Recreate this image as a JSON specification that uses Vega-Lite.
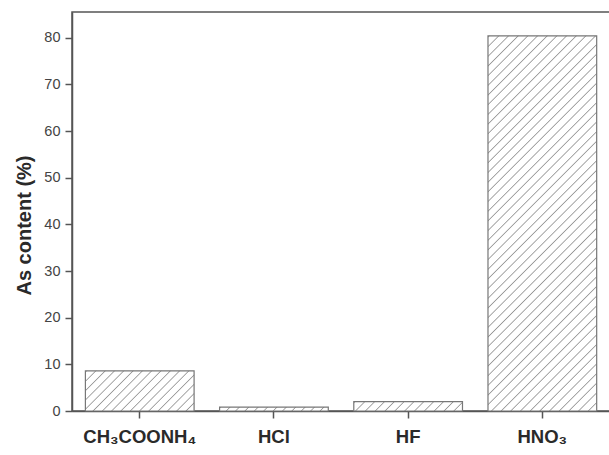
{
  "$schema": "https://vega.github.io/schema/vega-lite/v6.json",
  "width": 560,
  "height": 399,
  "autosize": "none",
  "padding": {"left": 72, "top": 12, "right": 0, "bottom": 44},
  "background": "white",
  "config": {
    "font": "Liberation Sans",
    "view": {"stroke": "#555555", "strokeWidth": 1.5}
  },
  "data": {
    "values": [
      {"acid": "CH₃COONH₄", "content": 8.6},
      {"acid": "HCl", "content": 0.85},
      {"acid": "HF", "content": 2.0},
      {"acid": "HNO₃", "content": 80.4}
    ]
  },
  "encoding": {
    "x": {
      "field": "acid",
      "type": "nominal",
      "sort": null,
      "scale": {"paddingInner": 0.19, "paddingOuter": 0.1815, "align": 0.275},
      "axis": {
        "title": null,
        "labelAngle": 0,
        "labelFont": "Liberation Sans",
        "labelFontSize": 18.5,
        "labelFontWeight": "bold",
        "labelColor": "#2a2a2a",
        "labelPadding": 9,
        "tickSize": 7,
        "tickColor": "#555555",
        "tickWidth": 1.5,
        "domainColor": "#555555",
        "domainWidth": 1.5,
        "grid": false
      }
    },
    "y": {
      "field": "content",
      "type": "quantitative",
      "scale": {"domain": [0, 85.5], "nice": false},
      "axis": {
        "values": [0, 10, 20, 30, 40, 50, 60, 70, 80],
        "title": "As content (%)",
        "titleFont": "Liberation Sans",
        "titleFontSize": 20,
        "titleFontWeight": "bold",
        "titleColor": "#2a2a2a",
        "titlePadding": 9,
        "titleY": 213,
        "labelFont": "Liberation Sans",
        "labelFontSize": 14.5,
        "labelColor": "#444444",
        "labelPadding": 5,
        "tickSize": 7,
        "tickColor": "#555555",
        "tickWidth": 1.5,
        "domainColor": "#555555",
        "domainWidth": 1.5,
        "grid": false
      }
    }
  },
  "layer": [
    {
      "transform": [{"filter": {"field": "acid", "equal": "CH₃COONH₄"}}],
      "mark": {
        "type": "bar",
        "stroke": "#777777",
        "strokeWidth": 1.2,
        "fill": {
          "gradient": "linear",
          "x1": 0, "y1": 0, "x2": 1.205, "y2": 0.4445,
          "stops": [
            {"offset": 0, "color": "#ffffff"}, {"offset": 0.008, "color": "#999999"}, {"offset": 0.016, "color": "#ffffff"},
            {"offset": 0.0625, "color": "#ffffff"}, {"offset": 0.0705, "color": "#999999"}, {"offset": 0.0785, "color": "#ffffff"},
            {"offset": 0.125, "color": "#ffffff"}, {"offset": 0.133, "color": "#999999"}, {"offset": 0.141, "color": "#ffffff"},
            {"offset": 0.1875, "color": "#ffffff"}, {"offset": 0.1955, "color": "#999999"}, {"offset": 0.2035, "color": "#ffffff"},
            {"offset": 0.25, "color": "#ffffff"}, {"offset": 0.258, "color": "#999999"}, {"offset": 0.266, "color": "#ffffff"},
            {"offset": 0.3125, "color": "#ffffff"}, {"offset": 0.3205, "color": "#999999"}, {"offset": 0.3285, "color": "#ffffff"},
            {"offset": 0.375, "color": "#ffffff"}, {"offset": 0.383, "color": "#999999"}, {"offset": 0.391, "color": "#ffffff"},
            {"offset": 0.4375, "color": "#ffffff"}, {"offset": 0.4455, "color": "#999999"}, {"offset": 0.4535, "color": "#ffffff"},
            {"offset": 0.5, "color": "#ffffff"}, {"offset": 0.508, "color": "#999999"}, {"offset": 0.516, "color": "#ffffff"},
            {"offset": 0.5625, "color": "#ffffff"}, {"offset": 0.5705, "color": "#999999"}, {"offset": 0.5785, "color": "#ffffff"},
            {"offset": 0.625, "color": "#ffffff"}, {"offset": 0.633, "color": "#999999"}, {"offset": 0.641, "color": "#ffffff"},
            {"offset": 0.6875, "color": "#ffffff"}, {"offset": 0.6955, "color": "#999999"}, {"offset": 0.7035, "color": "#ffffff"},
            {"offset": 0.75, "color": "#ffffff"}, {"offset": 0.758, "color": "#999999"}, {"offset": 0.766, "color": "#ffffff"},
            {"offset": 0.8125, "color": "#ffffff"}, {"offset": 0.8205, "color": "#999999"}, {"offset": 0.8285, "color": "#ffffff"},
            {"offset": 0.875, "color": "#ffffff"}, {"offset": 0.883, "color": "#999999"}, {"offset": 0.891, "color": "#ffffff"},
            {"offset": 0.9375, "color": "#ffffff"}, {"offset": 0.9455, "color": "#999999"}, {"offset": 0.9535, "color": "#ffffff"},
            {"offset": 1, "color": "#ffffff"}
          ]
        }
      }
    },
    {
      "transform": [{"filter": {"field": "acid", "equal": "HCl"}}],
      "mark": {
        "type": "bar",
        "stroke": "#777777",
        "strokeWidth": 1.2,
        "fill": {
          "gradient": "linear",
          "x1": 0, "y1": 0, "x2": 1.035, "y2": 0.0378,
          "stops": [
            {"offset": 0, "color": "#ffffff"}, {"offset": 0.01, "color": "#999999"}, {"offset": 0.02, "color": "#ffffff"},
            {"offset": 0.0833, "color": "#ffffff"}, {"offset": 0.0933, "color": "#999999"}, {"offset": 0.1033, "color": "#ffffff"},
            {"offset": 0.1667, "color": "#ffffff"}, {"offset": 0.1767, "color": "#999999"}, {"offset": 0.1867, "color": "#ffffff"},
            {"offset": 0.25, "color": "#ffffff"}, {"offset": 0.26, "color": "#999999"}, {"offset": 0.27, "color": "#ffffff"},
            {"offset": 0.3333, "color": "#ffffff"}, {"offset": 0.3433, "color": "#999999"}, {"offset": 0.3533, "color": "#ffffff"},
            {"offset": 0.4167, "color": "#ffffff"}, {"offset": 0.4267, "color": "#999999"}, {"offset": 0.4367, "color": "#ffffff"},
            {"offset": 0.5, "color": "#ffffff"}, {"offset": 0.51, "color": "#999999"}, {"offset": 0.52, "color": "#ffffff"},
            {"offset": 0.5833, "color": "#ffffff"}, {"offset": 0.5933, "color": "#999999"}, {"offset": 0.6033, "color": "#ffffff"},
            {"offset": 0.6667, "color": "#ffffff"}, {"offset": 0.6767, "color": "#999999"}, {"offset": 0.6867, "color": "#ffffff"},
            {"offset": 0.75, "color": "#ffffff"}, {"offset": 0.76, "color": "#999999"}, {"offset": 0.77, "color": "#ffffff"},
            {"offset": 0.8333, "color": "#ffffff"}, {"offset": 0.8433, "color": "#999999"}, {"offset": 0.8533, "color": "#ffffff"},
            {"offset": 0.9167, "color": "#ffffff"}, {"offset": 0.9267, "color": "#999999"}, {"offset": 0.9367, "color": "#ffffff"},
            {"offset": 1, "color": "#ffffff"}
          ]
        }
      }
    },
    {
      "transform": [{"filter": {"field": "acid", "equal": "HF"}}],
      "mark": {
        "type": "bar",
        "stroke": "#777777",
        "strokeWidth": 1.2,
        "fill": {
          "gradient": "linear",
          "x1": 0, "y1": 0, "x2": 1.078, "y2": 0.0925,
          "stops": [
            {"offset": 0, "color": "#ffffff"}, {"offset": 0.01, "color": "#999999"}, {"offset": 0.02, "color": "#ffffff"},
            {"offset": 0.0833, "color": "#ffffff"}, {"offset": 0.0933, "color": "#999999"}, {"offset": 0.1033, "color": "#ffffff"},
            {"offset": 0.1667, "color": "#ffffff"}, {"offset": 0.1767, "color": "#999999"}, {"offset": 0.1867, "color": "#ffffff"},
            {"offset": 0.25, "color": "#ffffff"}, {"offset": 0.26, "color": "#999999"}, {"offset": 0.27, "color": "#ffffff"},
            {"offset": 0.3333, "color": "#ffffff"}, {"offset": 0.3433, "color": "#999999"}, {"offset": 0.3533, "color": "#ffffff"},
            {"offset": 0.4167, "color": "#ffffff"}, {"offset": 0.4267, "color": "#999999"}, {"offset": 0.4367, "color": "#ffffff"},
            {"offset": 0.5, "color": "#ffffff"}, {"offset": 0.51, "color": "#999999"}, {"offset": 0.52, "color": "#ffffff"},
            {"offset": 0.5833, "color": "#ffffff"}, {"offset": 0.5933, "color": "#999999"}, {"offset": 0.6033, "color": "#ffffff"},
            {"offset": 0.6667, "color": "#ffffff"}, {"offset": 0.6767, "color": "#999999"}, {"offset": 0.6867, "color": "#ffffff"},
            {"offset": 0.75, "color": "#ffffff"}, {"offset": 0.76, "color": "#999999"}, {"offset": 0.77, "color": "#ffffff"},
            {"offset": 0.8333, "color": "#ffffff"}, {"offset": 0.8433, "color": "#999999"}, {"offset": 0.8533, "color": "#ffffff"},
            {"offset": 0.9167, "color": "#ffffff"}, {"offset": 0.9267, "color": "#999999"}, {"offset": 0.9367, "color": "#ffffff"},
            {"offset": 1, "color": "#ffffff"}
          ]
        }
      }
    },
    {
      "transform": [{"filter": {"field": "acid", "equal": "HNO₃"}}],
      "mark": {
        "type": "bar",
        "stroke": "#777777",
        "strokeWidth": 1.2,
        "fill": {
          "gradient": "linear",
          "x1": 0, "y1": 0, "x2": 0.3447, "y2": 1.1898,
          "stops": [
            {"offset": 0, "color": "#ffffff"}, {"offset": 0.0025, "color": "#999999"}, {"offset": 0.005, "color": "#ffffff"},
            {"offset": 0.02, "color": "#ffffff"}, {"offset": 0.0225, "color": "#999999"}, {"offset": 0.025, "color": "#ffffff"},
            {"offset": 0.04, "color": "#ffffff"}, {"offset": 0.0425, "color": "#999999"}, {"offset": 0.045, "color": "#ffffff"},
            {"offset": 0.06, "color": "#ffffff"}, {"offset": 0.0625, "color": "#999999"}, {"offset": 0.065, "color": "#ffffff"},
            {"offset": 0.08, "color": "#ffffff"}, {"offset": 0.0825, "color": "#999999"}, {"offset": 0.085, "color": "#ffffff"},
            {"offset": 0.1, "color": "#ffffff"}, {"offset": 0.1025, "color": "#999999"}, {"offset": 0.105, "color": "#ffffff"},
            {"offset": 0.12, "color": "#ffffff"}, {"offset": 0.1225, "color": "#999999"}, {"offset": 0.125, "color": "#ffffff"},
            {"offset": 0.14, "color": "#ffffff"}, {"offset": 0.1425, "color": "#999999"}, {"offset": 0.145, "color": "#ffffff"},
            {"offset": 0.16, "color": "#ffffff"}, {"offset": 0.1625, "color": "#999999"}, {"offset": 0.165, "color": "#ffffff"},
            {"offset": 0.18, "color": "#ffffff"}, {"offset": 0.1825, "color": "#999999"}, {"offset": 0.185, "color": "#ffffff"},
            {"offset": 0.2, "color": "#ffffff"}, {"offset": 0.2025, "color": "#999999"}, {"offset": 0.205, "color": "#ffffff"},
            {"offset": 0.22, "color": "#ffffff"}, {"offset": 0.2225, "color": "#999999"}, {"offset": 0.225, "color": "#ffffff"},
            {"offset": 0.24, "color": "#ffffff"}, {"offset": 0.2425, "color": "#999999"}, {"offset": 0.245, "color": "#ffffff"},
            {"offset": 0.26, "color": "#ffffff"}, {"offset": 0.2625, "color": "#999999"}, {"offset": 0.265, "color": "#ffffff"},
            {"offset": 0.28, "color": "#ffffff"}, {"offset": 0.2825, "color": "#999999"}, {"offset": 0.285, "color": "#ffffff"},
            {"offset": 0.3, "color": "#ffffff"}, {"offset": 0.3025, "color": "#999999"}, {"offset": 0.305, "color": "#ffffff"},
            {"offset": 0.32, "color": "#ffffff"}, {"offset": 0.3225, "color": "#999999"}, {"offset": 0.325, "color": "#ffffff"},
            {"offset": 0.34, "color": "#ffffff"}, {"offset": 0.3425, "color": "#999999"}, {"offset": 0.345, "color": "#ffffff"},
            {"offset": 0.36, "color": "#ffffff"}, {"offset": 0.3625, "color": "#999999"}, {"offset": 0.365, "color": "#ffffff"},
            {"offset": 0.38, "color": "#ffffff"}, {"offset": 0.3825, "color": "#999999"}, {"offset": 0.385, "color": "#ffffff"},
            {"offset": 0.4, "color": "#ffffff"}, {"offset": 0.4025, "color": "#999999"}, {"offset": 0.405, "color": "#ffffff"},
            {"offset": 0.42, "color": "#ffffff"}, {"offset": 0.4225, "color": "#999999"}, {"offset": 0.425, "color": "#ffffff"},
            {"offset": 0.44, "color": "#ffffff"}, {"offset": 0.4425, "color": "#999999"}, {"offset": 0.445, "color": "#ffffff"},
            {"offset": 0.46, "color": "#ffffff"}, {"offset": 0.4625, "color": "#999999"}, {"offset": 0.465, "color": "#ffffff"},
            {"offset": 0.48, "color": "#ffffff"}, {"offset": 0.4825, "color": "#999999"}, {"offset": 0.485, "color": "#ffffff"},
            {"offset": 0.5, "color": "#ffffff"}, {"offset": 0.5025, "color": "#999999"}, {"offset": 0.505, "color": "#ffffff"},
            {"offset": 0.52, "color": "#ffffff"}, {"offset": 0.5225, "color": "#999999"}, {"offset": 0.525, "color": "#ffffff"},
            {"offset": 0.54, "color": "#ffffff"}, {"offset": 0.5425, "color": "#999999"}, {"offset": 0.545, "color": "#ffffff"},
            {"offset": 0.56, "color": "#ffffff"}, {"offset": 0.5625, "color": "#999999"}, {"offset": 0.565, "color": "#ffffff"},
            {"offset": 0.58, "color": "#ffffff"}, {"offset": 0.5825, "color": "#999999"}, {"offset": 0.585, "color": "#ffffff"},
            {"offset": 0.6, "color": "#ffffff"}, {"offset": 0.6025, "color": "#999999"}, {"offset": 0.605, "color": "#ffffff"},
            {"offset": 0.62, "color": "#ffffff"}, {"offset": 0.6225, "color": "#999999"}, {"offset": 0.625, "color": "#ffffff"},
            {"offset": 0.64, "color": "#ffffff"}, {"offset": 0.6425, "color": "#999999"}, {"offset": 0.645, "color": "#ffffff"},
            {"offset": 0.66, "color": "#ffffff"}, {"offset": 0.6625, "color": "#999999"}, {"offset": 0.665, "color": "#ffffff"},
            {"offset": 0.68, "color": "#ffffff"}, {"offset": 0.6825, "color": "#999999"}, {"offset": 0.685, "color": "#ffffff"},
            {"offset": 0.7, "color": "#ffffff"}, {"offset": 0.7025, "color": "#999999"}, {"offset": 0.705, "color": "#ffffff"},
            {"offset": 0.72, "color": "#ffffff"}, {"offset": 0.7225, "color": "#999999"}, {"offset": 0.725, "color": "#ffffff"},
            {"offset": 0.74, "color": "#ffffff"}, {"offset": 0.7425, "color": "#999999"}, {"offset": 0.745, "color": "#ffffff"},
            {"offset": 0.76, "color": "#ffffff"}, {"offset": 0.7625, "color": "#999999"}, {"offset": 0.765, "color": "#ffffff"},
            {"offset": 0.78, "color": "#ffffff"}, {"offset": 0.7825, "color": "#999999"}, {"offset": 0.785, "color": "#ffffff"},
            {"offset": 0.8, "color": "#ffffff"}, {"offset": 0.8025, "color": "#999999"}, {"offset": 0.805, "color": "#ffffff"},
            {"offset": 0.82, "color": "#ffffff"}, {"offset": 0.8225, "color": "#999999"}, {"offset": 0.825, "color": "#ffffff"},
            {"offset": 0.84, "color": "#ffffff"}, {"offset": 0.8425, "color": "#999999"}, {"offset": 0.845, "color": "#ffffff"},
            {"offset": 0.86, "color": "#ffffff"}, {"offset": 0.8625, "color": "#999999"}, {"offset": 0.865, "color": "#ffffff"},
            {"offset": 0.88, "color": "#ffffff"}, {"offset": 0.8825, "color": "#999999"}, {"offset": 0.885, "color": "#ffffff"},
            {"offset": 0.9, "color": "#ffffff"}, {"offset": 0.9025, "color": "#999999"}, {"offset": 0.905, "color": "#ffffff"},
            {"offset": 0.92, "color": "#ffffff"}, {"offset": 0.9225, "color": "#999999"}, {"offset": 0.925, "color": "#ffffff"},
            {"offset": 0.94, "color": "#ffffff"}, {"offset": 0.9425, "color": "#999999"}, {"offset": 0.945, "color": "#ffffff"},
            {"offset": 0.96, "color": "#ffffff"}, {"offset": 0.9625, "color": "#999999"}, {"offset": 0.965, "color": "#ffffff"},
            {"offset": 0.98, "color": "#ffffff"}, {"offset": 0.9825, "color": "#999999"}, {"offset": 0.985, "color": "#ffffff"},
            {"offset": 1, "color": "#ffffff"}
          ]
        }
      }
    }
  ]
}
